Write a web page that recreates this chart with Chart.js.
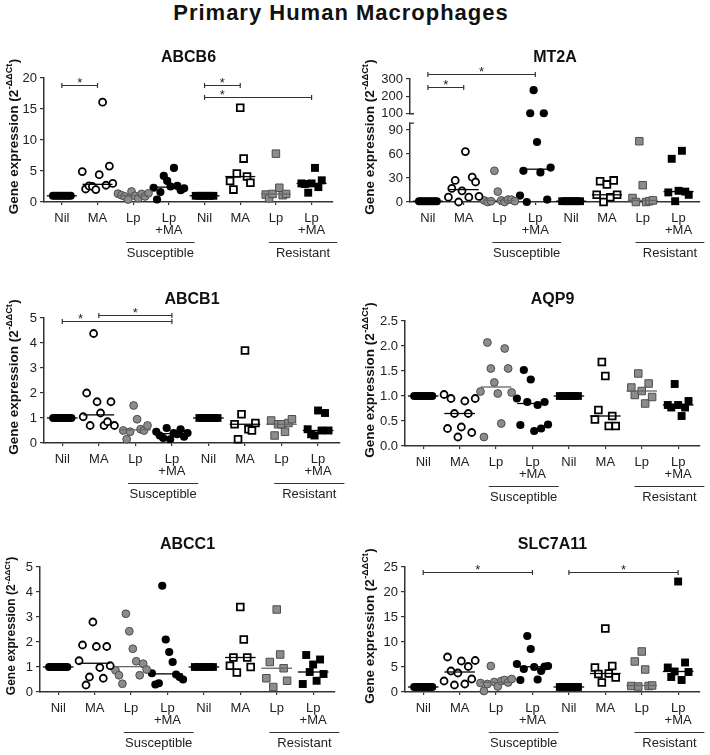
<!DOCTYPE html>
<html>
<head>
<meta charset="utf-8">
<script src="https://cdn.jsdelivr.net/npm/chart.js@4.4.1/dist/chart.umd.min.js"></script>
<style>
  body { margin: 0; background: #fff; width: 710px; height: 755px; position: relative; overflow: hidden; }
  #title { position: absolute; left: 0; top: 0; width: 682px; text-align: center; font-family: "Liberation Sans", Arial, sans-serif;
           font-weight: bold; font-size: 22px; line-height: 26px; letter-spacing: 1px; color: #111; }
  canvas { position: absolute; }
</style>
</head>
<body>
<div id="title">Primary Human Macrophages</div>
<canvas id="c1"></canvas>
<canvas id="c2"></canvas>
<canvas id="c3"></canvas>
<canvas id="c4"></canvas>
<canvas id="c5"></canvas>
<canvas id="c6"></canvas>
<script>
const FONT = '"Liberation Sans", Arial, sans-serif';

// categories (same for every panel)
const CATS = [["Nil"], ["MA"], ["Lp"], ["Lp", "+MA"], ["Nil"], ["MA"], ["Lp"], ["Lp", "+MA"]];
const COHORTS = [["Susceptible", 2, 3], ["Resistant", 6, 7]];

// values per group: Nil, MA, Lp, Lp+MA (susceptible) then Nil, MA, Lp, Lp+MA (resistant)
const ABCB6 = [
  [1, 1, 1, 1, 1, 1, 1, 1, 1, 1],
  [4.9, 2.1, 2.6, 2.5, 2.0, 4.4, 16.1, 2.7, 5.8, 3.0],
  [1.35, 1.1, 0.9, 0.4, 1.7, 1.0, 0.6, 1.3, 0.9, 1.4],
  [2.3, 0.4, 1.6, 4.2, 3.4, 2.5, 5.5, 2.6, 1.9, 2.2],
  [1, 1, 1, 1, 1, 1, 1],
  [3.4, 2.0, 4.6, 15.2, 7.0, 4.1, 3.1],
  [1.2, 0.6, 1.3, 7.8, 2.3, 1.1, 1.3],
  [3.0, 2.9, 1.5, 3.0, 5.5, 2.4, 3.5]
];
const ABCB6_TICKS = [0, 5, 10, 15, 20];
const ABCB6_SIG = [[0, 1, 18.9], [4, 5, 18.9], [4, 7, 16.9, 4.5]];

const MT2A = [
  [1, 1, 1, 1, 1, 1, 1, 1, 1, 1],
  [6, 17, 27, 0, 14, 63, 6, 31, 25, 7],
  [2, 0, 1, 39, 13, 2, 0, 3, 3, 1],
  [8, 39, 0, 100, 235, 75, 37, 100, 3, 43],
  [1, 1, 1, 1, 1, 1, 1],
  [9, 26, 0, 22, 6, 27, 9],
  [5, 0, 76, 21, 0, 1, 2],
  [12, 54, 1, 14, 64, 13, 9]
];
const MT2A_TICKS = [0, 30, 60, 90, 100, 200, 300];
const MT2A_SIG = [[0, 1, 254], [0, 3, 327]];

const ABCB1 = [
  [1, 1, 1, 1, 1, 1, 1, 1, 1, 1],
  [1.05, 2.0, 0.7, 4.38, 1.65, 1.2, 0.7, 0.85, 1.65, 0.7],
  [0.5, 0.15, 0.45, 1.5, 0.95, 0.55, 0.5, 0.7],
  [0.45, 0.3, 0.2, 0.6, 0.15, 0.4, 0.35, 0.55, 0.25, 0.4],
  [1, 1, 1, 1, 1, 1, 1],
  [0.75, 0.15, 1.15, 3.7, 0.55, 0.5, 0.8],
  [0.9, 0.3, 0.75, 0.75, 0.45, 0.8, 0.95],
  [0.55, 0.35, 0.3, 1.3, 0.5, 1.2, 0.5]
];
const ABCB1_TICKS = [0, 1, 2, 3, 4, 5];
const ABCB1_SIG = [[0, 3, 4.87, 0.5], [1, 3, 5.13]];

const AQP9 = [
  [1, 1, 1, 1, 1, 1, 1, 1, 1, 1],
  [1.03, 0.35, 0.95, 0.65, 0.18, 0.38, 0.9, 0.65, 0.27, 0.95],
  [1.09, 0.18, 2.07, 1.55, 1.27, 1.05, 0.45, 1.95, 1.55, 1.07],
  [0.95, 0.42, 1.52, 0.88, 1.33, 0.3, 0.82, 0.35, 0.88, 0.43],
  [1, 1, 1, 1, 1, 1, 1],
  [0.53, 0.72, 1.68, 1.4, 0.4, 0.6, 0.4],
  [1.17, 1.02, 1.45, 1.1, 0.85, 1.25, 0.98],
  [0.82, 0.77, 1.24, 0.82, 0.6, 0.77, 0.9]
];
const AQP9_TICKS = [0, 0.5, 1, 1.5, 2, 2.5];

const ABCC1 = [
  [1, 1, 1, 1, 1, 1, 1, 1, 1, 1],
  [1.25, 1.88, 0.28, 0.6, 2.8, 1.82, 0.98, 0.55, 1.82, 1.05],
  [0.87, 0.67, 0.33, 3.13, 2.43, 1.73, 1.23, 0.67, 1.13, 0.9],
  [0.75, 0.3, 0.35, 4.25, 2.1, 1.6, 1.2, 0.7, 0.6, 0.5],
  [1, 1, 1, 1, 1, 1, 1],
  [1.05, 1.38, 0.78, 3.4, 2.1, 1.38, 1.0],
  [0.55, 1.2, 0.2, 3.3, 1.5, 0.95, 0.45],
  [0.32, 1.48, 0.8, 1.1, 0.45, 1.3, 0.72]
];
const ABCC1_TICKS = [0, 1, 2, 3, 4, 5];

const SLC7A11 = [
  [1, 1, 1, 1, 1, 1, 1, 1, 1, 1],
  [2.2, 7.0, 4.2, 1.4, 3.8, 6.2, 1.6, 5.1, 2.6, 6.3],
  [1.8, 0.2, 1.6, 5.2, 2.0, 1.1, 2.2, 2.4, 1.9, 2.6],
  [5.6, 2.4, 4.6, 11.2, 8.6, 5.0, 2.5, 4.2, 5.1, 5.2],
  [1, 1, 1, 1, 1, 1, 1],
  [4.9, 3.6, 1.9, 12.7, 3.7, 5.2, 2.9],
  [1.2, 6.1, 1.1, 8.1, 4.5, 1.2, 1.3],
  [4.9, 3.0, 4.1, 22.1, 2.4, 5.9, 4.0]
];
const SLC7A11_TICKS = [0, 5, 10, 15, 20, 25];
const SLC7A11_SIG = [[0, 3, 24], [4, 7, 24]];

// marker look per group
const STYLES = [
  { shape: "circle", r: 4, fill: "#000", stroke: "#000", bw: 0, med: "#000" },
  { shape: "circle", r: 3.5, fill: "#fff", stroke: "#000", bw: 1.8, med: "#000" },
  { shape: "circle", r: 3.9, fill: "#8c8c8c", stroke: "#4d4d4d", bw: 1, med: "#666" },
  { shape: "circle", r: 4.1, fill: "#000", stroke: "#000", bw: 0, med: "#000" },
  { shape: "rect", r: 5.5, fill: "#000", stroke: "#000", bw: 0, med: "#000" },
  { shape: "rect", r: 4.8, fill: "#fff", stroke: "#000", bw: 1.8, med: "#000" },
  { shape: "rect", r: 5.3, fill: "#8c8c8c", stroke: "#4d4d4d", bw: 1, med: "#666" },
  { shape: "rect", r: 5.6, fill: "#000", stroke: "#000", bw: 0, med: "#000" }
];

// broken axis of MT2A: 0-90 linear, then 100-300 compressed
function brokenAxis(v) {
  return v < 100 ? v : 110.9 + (v - 100) * 0.2142;
}

function median(a) {
  const s = [...a].sort((x, y) => x - y);
  const n = s.length;
  return n % 2 ? s[(n - 1) / 2] : (s[n / 2 - 1] + s[n / 2]) / 2;
}

function drawYTitle(ctx, cx, cy, size) {
  const main = "Gene expression (2", sup = "-\u0394\u0394Ct", end = ")";
  const fMain = `bold ${size}px ${FONT}`, fSup = `bold ${Math.round(size * 0.64)}px ${FONT}`;
  ctx.save();
  ctx.translate(cx, cy);
  ctx.rotate(-Math.PI / 2);
  ctx.font = fMain;
  const w1 = ctx.measureText(main).width, w3 = ctx.measureText(end).width;
  ctx.font = fSup;
  const w2 = ctx.measureText(sup).width;
  let x = -(w1 + w2 + w3) / 2;
  ctx.textAlign = "left";
  ctx.textBaseline = "middle";
  ctx.fillStyle = "#111";
  ctx.font = fMain; ctx.fillText(main, x, 0); x += w1;
  ctx.font = fSup; ctx.fillText(sup, x + 0.5, -size * 0.35); x += w2 + 1;
  ctx.font = fMain; ctx.fillText(end, x, 0);
  ctx.restore();
}

const PANELS = [
  { id: "c1", title: "ABCB6", data: ABCB6, ticks: ABCB6_TICKS, sig: ABCB6_SIG,
    box: [0, 40, 352, 225], area: [44, 78, 333, 202], titleY: 58, ytx: 14, yts: 13.5 },
  { id: "c2", title: "MT2A", data: MT2A, ticks: MT2A_TICKS, sig: MT2A_SIG, map: brokenAxis, brk: true,
    box: [355, 40, 355, 225], area: [410, 79, 700, 202], titleY: 58, ytx: 370, yts: 13.5 },
  { id: "c3", title: "ABCB1", data: ABCB1, ticks: ABCB1_TICKS, sig: ABCB1_SIG,
    box: [0, 280, 352, 230], area: [44, 318, 340, 443], titleY: 300, ytx: 14, yts: 13.5 },
  { id: "c4", title: "AQP9", data: AQP9, ticks: AQP9_TICKS, sig: [], fmt: v => v.toFixed(1),
    box: [355, 280, 355, 230], area: [405, 321, 700, 446], titleY: 300, ytx: 370, yts: 13.5 },
  { id: "c5", title: "ABCC1", data: ABCC1, ticks: ABCC1_TICKS, sig: [],
    box: [0, 525, 352, 230], area: [40, 567, 335, 692], titleY: 545, ytx: 12, yts: 12 },
  { id: "c6", title: "SLC7A11", data: SLC7A11, ticks: SLC7A11_TICKS, sig: SLC7A11_SIG,
    box: [355, 525, 355, 230], area: [405, 567, 700, 692], titleY: 545, ytx: 370, yts: 13.5 }
];

function makePanel(p) {
  const cv = document.getElementById(p.id);
  const [bx, by, bw, bh] = p.box;
  const [al, at, ar, ab] = p.area;
  cv.width = bw; cv.height = bh;
  cv.style.left = bx + "px"; cv.style.top = by + "px";
  const map = p.map || (v => v);
  const fmt = p.fmt || (v => String(v));

  const datasets = [];
  p.data.forEach((vals, g) => {
    const st = STYLES[g];
    const n = vals.length;
    const spread = g % 4 === 0 ? 0.5 : (n - 1) * 0.095;
    datasets.push({
      type: "scatter",
      data: vals.map((v, k) => ({ x: g + (n > 1 ? (k / (n - 1) - 0.5) * spread : 0), y: map(v) })),
      order: 1,
      clip: false,
      pointStyle: st.shape,
      pointRadius: st.r,
      pointHoverRadius: st.r,
      pointBackgroundColor: st.fill,
      pointBorderColor: st.stroke,
      pointBorderWidth: st.bw
    });
    const m = map(median(vals));
    datasets.push({
      type: "line",
      data: [{ x: g - 0.42, y: m }, { x: g + 0.42, y: m }],
      order: 0,
      clip: false,
      borderColor: st.med,
      borderWidth: 1.3,
      pointRadius: 0,
      fill: false
    });
  });

  const deco = {
    id: "deco" + p.id,
    afterDraw(chart) {
      const ctx = chart.ctx;
      const a = chart.chartArea;
      const xS = chart.scales.x, yS = chart.scales.y;
      ctx.save();
      // panel title
      ctx.fillStyle = "#111";
      ctx.font = `bold 16px ${FONT}`;
      ctx.textAlign = "center";
      ctx.textBaseline = "middle";
      ctx.fillText(p.title, (a.left + a.right) / 2, p.titleY - by);
      // y title
      drawYTitle(ctx, p.ytx - bx, (a.top + a.bottom) / 2 - 3, p.yts);
      // cohort lines and labels
      ctx.strokeStyle = "#333";
      ctx.lineWidth = 1.2;
      ctx.fillStyle = "#222";
      ctx.font = `13px ${FONT}`;
      COHORTS.forEach(([label, g1, g2]) => {
        const x1 = xS.getPixelForValue(g1 - 0.2), x2 = xS.getPixelForValue(g2 + 0.72);
        const y = a.bottom + 40.5;
        ctx.beginPath(); ctx.moveTo(x1, y); ctx.lineTo(x2, y); ctx.stroke();
        ctx.fillText(label, (x1 + x2) / 2, a.bottom + 51);
      });
      // significance brackets
      ctx.font = `13px ${FONT}`;
      ctx.textBaseline = "alphabetic";
      p.sig.forEach(([g1, g2, v, starAt]) => {
        const y = Math.round(yS.getPixelForValue(map(v))) + 0.5;
        const x1 = xS.getPixelForValue(g1), x2 = xS.getPixelForValue(g2);
        ctx.beginPath();
        ctx.moveTo(x1, y); ctx.lineTo(x2, y);
        ctx.moveTo(x1, y - 2.5); ctx.lineTo(x1, y + 2.5);
        ctx.moveTo(x2, y - 2.5); ctx.lineTo(x2, y + 2.5);
        ctx.stroke();
        const sx = xS.getPixelForValue(starAt !== undefined ? starAt : (g1 + g2) / 2);
        ctx.fillText("*", sx, y + 1);
      });
      // axis break
      if (p.brk) {
        const yTop = yS.getPixelForValue(map(100)), yBot = yS.getPixelForValue(map(98));
        ctx.fillStyle = "#fff";
        ctx.fillRect(a.left - 1.5, yTop + 1, 3, yBot - yTop - 2);
        ctx.strokeStyle = "#333";
        ctx.lineWidth = 1.3;
        ctx.beginPath();
        ctx.moveTo(a.left - 1, yTop + 0.5); ctx.lineTo(a.left + 4, yTop + 0.5);
        ctx.moveTo(a.left - 1, yBot - 0.5); ctx.lineTo(a.left + 4, yBot - 0.5);
        ctx.stroke();
      }
      ctx.restore();
    }
  };

  return new Chart(cv, {
    type: "scatter",
    data: { datasets },
    options: {
      responsive: false,
      animation: false,
      devicePixelRatio: 1,
      events: [],
      layout: { padding: { top: at - by, right: bx + bw - ar, left: 0, bottom: 0 } },
      plugins: { legend: { display: false }, tooltip: { enabled: false } },
      scales: {
        x: {
          type: "linear",
          min: -0.5,
          max: 7.6,
          afterBuildTicks: s => { s.ticks = CATS.map((c, i) => ({ value: i })); },
          afterFit: s => { s.height = by + bh - ab; },
          grid: { display: true, drawOnChartArea: false, drawTicks: true, tickLength: 3, color: "#333", lineWidth: 1.2 },
          border: { display: true, color: "#333", width: 1.5 },
          ticks: {
            autoSkip: false, maxRotation: 0, padding: 7, color: "#222",
            font: { family: FONT, size: 13, lineHeight: "12px" },
            callback: (v, i) => CATS[i]
          }
        },
        y: {
          type: "linear",
          min: map(p.ticks[0]),
          max: map(p.ticks[p.ticks.length - 1]),
          afterBuildTicks: s => { s.ticks = p.ticks.map(t => ({ value: map(t) })); },
          afterFit: s => { s.width = al - bx; },
          grid: { display: true, drawOnChartArea: false, drawTicks: true, tickLength: 4, color: "#333", lineWidth: 1.2 },
          border: { display: true, color: "#333", width: 1.5 },
          ticks: {
            padding: 3, color: "#222",
            font: { family: FONT, size: 13 },
            callback: (v, i) => fmt(p.ticks[i])
          }
        }
      }
    },
    plugins: [deco]
  });
}

PANELS.forEach(makePanel);
</script>
</body>
</html>
